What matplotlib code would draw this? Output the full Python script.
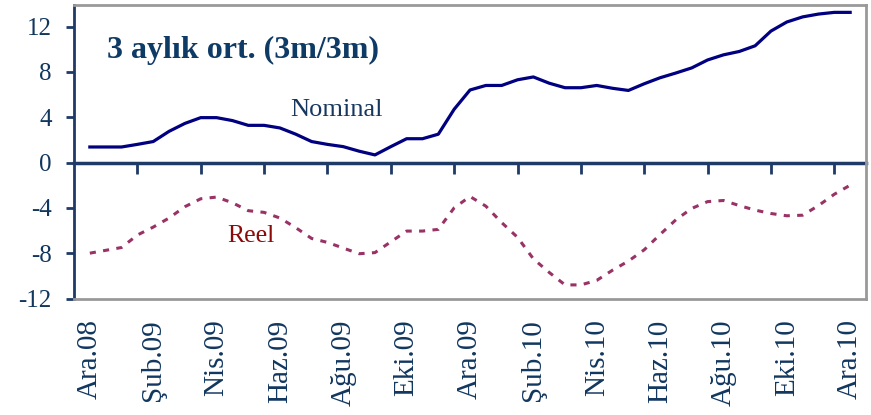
import matplotlib
matplotlib.use("Agg")
import matplotlib.pyplot as plt
import numpy as np

# ---- data (half-month steps, Ara.08 .. Ara.10) ----
month_labels = ["Ara.08", "Şub.09", "Nis.09", "Haz.09", "Ağu.09", "Eki.09", "Ara.09",
                "Şub.10", "Nis.10", "Haz.10", "Ağu.10", "Eki.10", "Ara.10"]
label_pos = [0, 2, 4, 6, 8, 10, 12, 14, 16, 18, 20, 22, 24]

t = [i * 0.5 for i in range(49)]

nominal = [1.37, 1.37, 1.37, 1.6, 1.85, 2.75, 3.45, 3.96, 3.96, 3.7,
           3.28, 3.28, 3.05, 2.5, 1.85, 1.6, 1.4, 1.0, 0.67, 1.4,
           2.1, 2.1, 2.5, 4.7, 6.4, 6.8, 6.8, 7.3, 7.55, 7.0,
           6.6, 6.6, 6.8, 6.55, 6.36, 6.95, 7.48, 7.9, 8.35, 9.05,
           9.5, 9.8, 10.3, 11.6, 12.4, 12.85, 13.1, 13.25, 13.25]

reel = [-8.0, -7.75, -7.5, -6.4, -5.7, -4.9, -3.9, -3.2, -3.05, -3.55,
        -4.25, -4.4, -4.9, -5.75, -6.7, -7.05, -7.55, -8.05, -7.95, -7.0,
        -6.05, -6.05, -5.9, -4.0, -3.0, -3.85, -5.3, -6.6, -8.5, -9.7,
        -10.8, -10.8, -10.4, -9.5, -8.7, -7.7, -6.35, -5.05, -4.05, -3.45,
        -3.35, -3.8, -4.2, -4.5, -4.7, -4.65, -3.8, -2.8, -2.0]

y_ticks = [-12, -8, -4, 0, 4, 8, 12]
y_labels = ["-12", "-8", "-4", "0", "4", "8", "12"]
boundary_ticks = [1.5, 3.5, 5.5, 7.5, 9.5, 11.5, 13.5, 15.5, 17.5, 19.5, 21.5, 23.5]

title_text = "3 aylık ort. (3m/3m)"

# ---- styling ----
navy_text = "#12375F"
serif = ["Liberation Serif", "DejaVu Serif"]
ymin, ymax = -12, 13.9

fig = plt.figure(figsize=(8.71, 4.15), dpi=100)
ax = fig.add_axes([74 / 871, 1 - 298.5 / 415, (866 - 74) / 871, (298.5 - 5) / 415])

ax.plot(t, nominal, color="#000080", lw=2.3, solid_joinstyle="round")
ax.plot(t, reel, color="#993366", lw=2.2, dashes=(2.0, 2.4), dash_capstyle="butt")

ax.set_xlim(-0.5, 24.5)
ax.set_ylim(ymin, ymax)

# frame
for s in ["top", "right", "bottom"]:
    ax.spines[s].set_color("#999999")
    ax.spines[s].set_linewidth(2.0)
ax.spines["left"].set_color("#1F3A66")
ax.spines["left"].set_linewidth(2.0)

# y axis
ax.set_yticks(y_ticks)
ax.set_yticklabels(y_labels, family=serif, fontsize=18, color=navy_text)
ax.tick_params(axis="y", direction="out", length=6, width=2, color="#1F3A66", pad=10)

# bottom labels (centered under categories)
ax.set_xticks(label_pos)
ax.set_xticklabels(month_labels, rotation=90, family=serif, fontsize=21,
                   color=navy_text, va="top")
ax.tick_params(axis="x", length=0, pad=15)

# zero axis with tick marks at category boundaries
zero_frac = (0 - ymin) / (ymax - ymin)
sec = ax.secondary_xaxis(zero_frac)
sec.spines["bottom"].set_color("#1F3A66")
sec.spines["bottom"].set_linewidth(2.5)
sec.set_xticks(boundary_ticks)
sec.set_xticklabels([])
sec.tick_params(axis="x", direction="out", length=8, width=2, color="#1F3A66")

# annotations
ax.text(0.54, 9.26, title_text, family=serif, fontsize=23, fontweight="bold",
        color="#0E3A66", va="baseline", ha="left")
ax.text(6.32, 4.07, "Nominal", family=serif, fontsize=19, color="#17375E",
        va="baseline", ha="left")
ax.text(4.33, -7.0, "Reel", family=serif, fontsize=18.5, color="#8B0A0A",
        va="baseline", ha="left")

fig.savefig("out.png", dpi=100)
